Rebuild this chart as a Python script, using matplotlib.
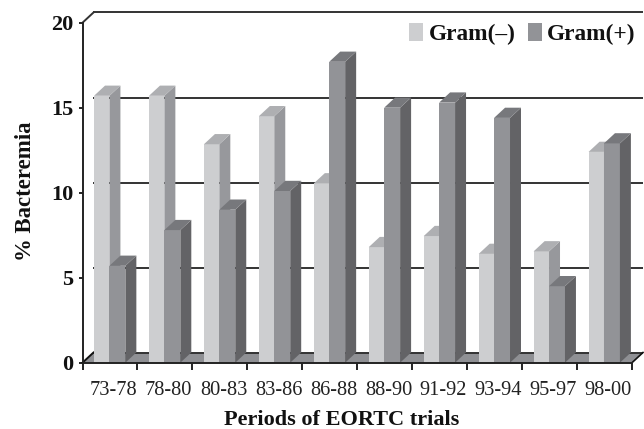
import numpy as np
import matplotlib
matplotlib.use('Agg')
import matplotlib.pyplot as plt
from matplotlib.patches import Polygon

periods = ['73-78', '78-80', '80-83', '83-86', '86-88', '88-90', '91-92', '93-94', '95-97', '98-00']
gram_neg = [15.7, 15.7, 12.85, 14.5, 10.55, 6.8, 7.45, 6.4, 6.55, 12.4]
gram_pos = [5.7, 7.8, 9.0, 10.1, 17.7, 15.0, 15.3, 14.4, 4.5, 12.9]
y_ticks = [0, 5, 10, 15, 20]

# depth of the fake 3d box, in axis units
DX = 0.2
DY = 0.6
WALL = '#333333'
FLOOR = '#8f9094'


def draw_bars(ax, x, vals, width, front, side, top, label):
    ax.bar(x, vals, width=width, align='edge', color=front, linewidth=0, zorder=3, label=label)
    for xi, v in zip(x, vals):
        x1 = xi + width
        ax.add_patch(Polygon([(x1, 0), (x1 + DX, DY), (x1 + DX, v + DY), (x1, v)],
                             facecolor=side, edgecolor='none', zorder=3, clip_on=False))
        ax.add_patch(Polygon([(xi, v), (xi + DX, v + DY), (x1 + DX, v + DY), (x1, v)],
                             facecolor=top, edgecolor='none', zorder=3, clip_on=False))


def main():
    plt.rcParams['font.family'] = ['Liberation Serif', 'DejaVu Serif']
    fig = plt.figure(figsize=(6.44, 4.29), dpi=100)
    ax = fig.add_axes([82.5 / 644, 1 - 362.7 / 429, 549.5 / 644, 340 / 429])
    ax.set_xlim(0, 10)
    ax.set_ylim(0, 20)

    # back wall and floor
    ax.add_patch(Polygon([(0, 0), (DX, DY), (10 + DX, DY), (10, 0)],
                         facecolor=FLOOR, edgecolor='none', zorder=1, clip_on=False))
    for t in y_ticks:
        ax.plot([DX, 10 + DX], [t + DY, t + DY], color=WALL, lw=1.4, zorder=2, clip_on=False,
                solid_capstyle='butt')
    ax.plot([0, DX], [0, DY], color='#111111', lw=1.4, zorder=2, clip_on=False)
    ax.plot([0, DX], [20, 20 + DY], color=WALL, lw=1.4, zorder=2, clip_on=False)
    ax.plot([10, 10 + DX], [0, DY], color='#111111', lw=1.2, zorder=2, clip_on=False)

    pos = np.arange(len(periods))
    draw_bars(ax, pos + 0.21, gram_neg, 0.28, '#cdced0', '#97989c', '#aeafb2', 'Gram(\u2013)')
    draw_bars(ax, pos + 0.49, gram_pos, 0.29, '#929397', '#636366', '#77787c', 'Gram(+)')

    for s in ['top', 'right']:
        ax.spines[s].set_visible(False)
    for s in ['left', 'bottom']:
        ax.spines[s].set_linewidth(1.4)
        ax.spines[s].set_color('#222222')
        ax.spines[s].set_zorder(5)

    ax.set_yticks(y_ticks)
    ax.set_yticklabels([str(t) for t in y_ticks], fontsize=16, fontweight='bold')
    ax.tick_params(axis='y', length=3, width=1.4, pad=3.5, color='#222222', labelcolor='#111111')

    # ticks on the category borders, labels centred on the bars
    ax.set_xticks(np.arange(len(periods) + 1))
    ax.set_xticklabels([])
    ax.set_xticks(pos + 0.57, periods, minor=True)
    ax.tick_params(axis='x', which='major', length=5, width=1.4, color='#222222')
    ax.tick_params(axis='x', which='minor', length=0, pad=13, labelsize=14.7, labelcolor='#222222')

    ax.set_xlabel('Periods of EORTC trials', fontsize=16, fontweight='bold', color='#111111')
    ax.xaxis.set_label_coords(0.472, -0.14)
    ax.set_ylabel('% Bacteremia', fontsize=16.4, fontweight='bold', color='#111111')
    ax.yaxis.set_label_coords(-0.085, 0.505)

    ax.legend(loc='upper right', bbox_to_anchor=(1.007, 0.999), ncol=2, frameon=False,
              prop={'size': 16.8, 'weight': 'bold'}, handlelength=0.6, handleheight=0.8,
              handletextpad=0.25, columnspacing=0.5, labelcolor='#111111', borderaxespad=0, borderpad=0)

    fig.savefig('out.png', dpi=100)


if __name__ == '__main__':
    main()
